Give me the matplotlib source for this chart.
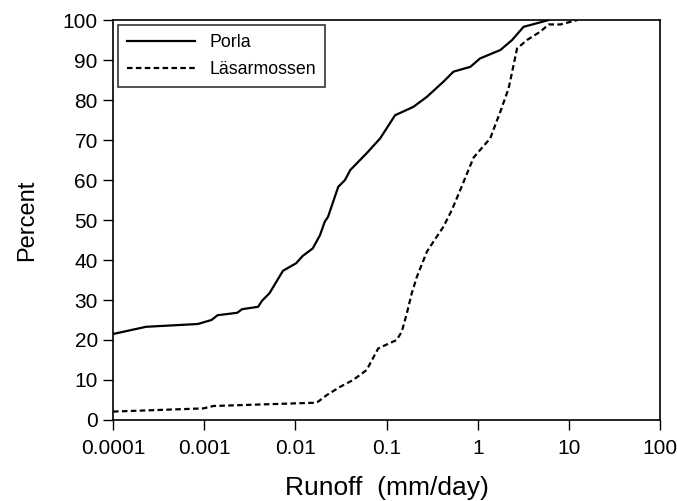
import matplotlib
matplotlib.use("Agg")
import matplotlib.pyplot as plt

# Porla (solid)
porla_x = [0.0001, 0.00023, 0.00085, 0.0012, 0.0014, 0.0023, 0.0026, 0.0039, 0.0043,
           0.0052, 0.0073, 0.0102, 0.012, 0.0155, 0.0186, 0.021, 0.0228, 0.0295, 0.035,
           0.040, 0.0605, 0.085, 0.124, 0.197, 0.277, 0.421, 0.542, 0.83, 1.06, 1.77,
           2.38, 3.18, 4.46, 6.0]
porla_y = [21.5, 23.3, 24.0, 25.0, 26.2, 26.8, 27.7, 28.3, 29.8,
           31.7, 37.3, 39.2, 41.0, 42.9, 46.2, 49.6, 50.8, 58.3, 60.0,
           62.5, 66.7, 70.4, 76.2, 78.3, 80.8, 84.6, 87.1, 88.3, 90.4, 92.5,
           95.0, 98.3, 99.2, 100.0]

# Läsarmossen (dashed)
lasar_x = [0.0001, 0.00098, 0.00126, 0.0157, 0.0178, 0.022, 0.031, 0.043, 0.0605,
           0.081, 0.129, 0.147, 0.167, 0.189, 0.215, 0.277, 0.327, 0.42, 0.52, 0.643,
           0.90, 1.06, 1.37, 1.77, 2.18, 2.47, 2.70, 3.47, 4.86, 6.0, 8.07, 12.4]
lasar_y = [2.1, 2.9, 3.5, 4.3, 4.6, 6.2, 8.3, 10.0, 12.5,
           17.9, 20.0, 22.1, 26.7, 31.7, 35.8, 42.1, 44.6, 48.3, 52.5, 57.5,
           65.6, 67.5, 70.4, 77.1, 82.9, 88.7, 92.9, 95.0, 97.1, 98.9, 98.9, 100.0]

x_ticks = [0.0001, 0.001, 0.01, 0.1, 1, 10, 100]
x_ticklabels = ["0.0001", "0.001", "0.01", "0.1", "1", "10", "100"]
y_ticks = [0, 10, 20, 30, 40, 50, 60, 70, 80, 90, 100]

plt.rcParams['font.family'] = ['Liberation Sans', 'DejaVu Sans']

fig = plt.figure(figsize=(6.77, 5.01), dpi=100)
ax = fig.add_axes([0.167, 0.1617, 0.808, 0.7983])

ax.plot(porla_x, porla_y, color='black', lw=1.6, label='Porla')
ax.plot(lasar_x, lasar_y, color='black', lw=1.6, linestyle=(0, (2.5, 1.5)), label='Läsarmossen')

ax.set_xscale('log')
ax.set_xlim(0.0001, 100)
ax.set_ylim(0, 100)
ax.set_xticks(x_ticks)
ax.set_xticklabels(x_ticklabels)
ax.minorticks_off()
ax.set_yticks(y_ticks)
ax.tick_params(axis='both', direction='out', length=7, width=1, labelsize=15)
ax.tick_params(axis='x', pad=7)
ax.tick_params(axis='y', pad=4)

for s in ax.spines.values():
    s.set_linewidth(1.2)

ax.set_xlabel('Runoff  (mm/day)', fontsize=19, labelpad=13)
ax.set_ylabel('Percent', fontsize=17, labelpad=18)

leg = ax.legend(loc='upper left', fontsize=12.8, handlelength=3.8, frameon=True,
                fancybox=False, borderaxespad=0.3, borderpad=0.5, labelspacing=0.55,
                handletextpad=0.8)
leg.get_frame().set_edgecolor('black')
leg.get_frame().set_linewidth(1.2)

fig.savefig('out.png', dpi=100)
